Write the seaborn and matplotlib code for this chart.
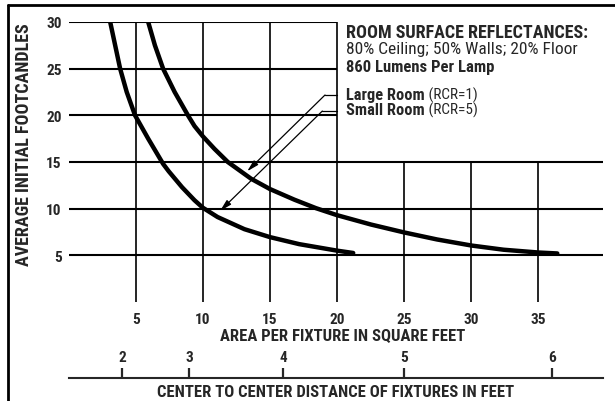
import numpy as np
import pandas as pd
import seaborn as sns
import matplotlib.pyplot as plt

# footcandles (area per fixture, sq ft)
large_area = [5.93, 6.43, 7.04, 7.9, 8.89, 9.38, 10, 10.87, 11.86, 13.6, 15, 16.82,
              18.43, 20, 22.52, 25, 27.44, 30, 32.4, 35, 36.4]
large_fc = [30, 27.5, 25, 22.5, 20, 18.85, 17.75, 16.4, 15.0, 13.2, 12.1, 10.96,
            10.05, 9.3, 8.3, 7.45, 6.7, 6.05, 5.6, 5.3, 5.2]
small_area = [3.1, 3.47, 3.84, 4.33, 4.95, 5.93, 7.04, 7.46, 8.45, 9.38, 10, 11.1,
              13.1, 15, 17.17, 20, 21.2]
small_fc = [30, 27.5, 25, 22.5, 20, 17.5, 14.8, 14.0, 12.3, 10.9, 10.1, 9.1,
            7.8, 6.95, 6.2, 5.5, 5.25]

x_ticks = [5, 10, 15, 20, 25, 30, 35]
y_ticks = [5, 10, 15, 20, 25, 30]
dist_ticks = [2, 3, 4, 5, 6]

df = pd.concat([
    pd.DataFrame({'area': large_area, 'fc': large_fc, 'room': 'Large Room'}),
    pd.DataFrame({'area': small_area, 'fc': small_fc, 'room': 'Small Room'}),
])

sns.set_style('white')
plt.rcParams['font.family'] = ['Roboto Condensed', 'Asap Condensed', 'DejaVu Sans']

fig = plt.figure(figsize=(6.15, 4.02), dpi=100)
ax = fig.add_axes([0.1115, 0.2463, 0.8689, 0.6965])

# grid: the upper right corner is left open for the notes
ax.hlines([5, 10, 15], 0, 39.8, color='black', lw=1.5)
ax.hlines([20, 25, 30], 0, 20, color='black', lw=1.5)
ax.vlines([5, 10, 15, 20], 0, 30, color='black', lw=1.2)
ax.vlines([25, 30, 35], 0, 15, color='black', lw=1.2)

sns.lineplot(data=df, x='area', y='fc', hue='room', palette=['black', 'black'],
             lw=3.2, legend=False, ax=ax)

ax.set_xlim(0, 39.8)
ax.set_ylim(0, 30)
ax.set_xticks(x_ticks)
ax.set_yticks(y_ticks)
for s in ax.spines.values():
    s.set_visible(False)
ax.tick_params(axis='both', length=0, labelsize=11)
ax.tick_params(axis='x', pad=7)
ax.tick_params(axis='y', pad=5)
for lbl in ax.get_xticklabels() + ax.get_yticklabels():
    lbl.set_fontweight('bold')

ax.set_xlabel('AREA PER FIXTURE IN SQUARE FEET', fontsize=12, fontweight='bold')
ax.xaxis.set_label_coords(0.512, -0.092)
ax.set_ylabel('AVERAGE INITIAL FOOTCANDLES', fontsize=13, fontweight='bold')
ax.yaxis.set_label_coords(-0.066, 0.565)

# second scale: spacing d gives area d*d
sec = ax.secondary_xaxis(-0.2714, functions=(np.sqrt, np.square))
sec.set_xticks(dist_ticks)
sec.spines['bottom'].set_linewidth(1.5)
sec.spines['top'].set_linewidth(1.5)
sec.tick_params(axis='x', top=True, bottom=False, labeltop=True, labelbottom=False,
                direction='out', length=7, width=1.6, pad=3, labelsize=11)
for lbl in sec.get_xticklabels():
    lbl.set_fontweight('bold')
sec.xaxis.set_label_position('bottom')
sec.set_xlabel('CENTER TO CENTER DISTANCE OF FIXTURES IN FEET', fontsize=12,
               fontweight='bold', labelpad=4)

# leaders from the notes to the curves
leaders = {'Large Room': [(20.0, 22.18), (19.1, 22.18), (13.3, 14.0)],
           'Small Room': [(20.0, 20.46), (18.9, 20.46), (11.28, 9.75)]}
for name, pts in leaders.items():
    ax.plot([pts[0][0], pts[1][0]], [pts[0][1], pts[1][1]], color='black', lw=0.9)
    ax.annotate('', xy=pts[2], xytext=pts[1],
                arrowprops=dict(arrowstyle='-|>,head_length=0.7,head_width=0.18',
                                color='black', lw=0.9, shrinkA=0, shrinkB=0))

tx = 0.5626
fig.text(tx, 0.9047, 'ROOM SURFACE REFLECTANCES:', fontsize=13, fontweight='bold', va='baseline')
fig.text(tx, 0.8669, '80% Ceiling; 50% Walls; 20% Floor', fontsize=12.5, va='baseline')
fig.text(tx, 0.8209, '860 Lumens Per Lamp', fontsize=12, fontweight='bold', va='baseline')
for y, name, rcr in [(0.7512, 'Large Room', ' (RCR=1)'), (0.7127, 'Small Room', ' (RCR=5)')]:
    t = fig.text(tx, y, name, fontsize=11.8, fontweight='bold', va='baseline')
    ax.annotate(rcr, xy=(1, 0), xycoords=t, fontsize=11, va='bottom', ha='left')

# frame edges seen on the scan (left and top)
fig.add_artist(plt.Line2D([8 / 615, 8 / 615], [0, 1 - 6 / 402], color='black', lw=2))
fig.add_artist(plt.Line2D([8 / 615, 1], [1 - 6 / 402, 1 - 6 / 402], color='black', lw=2))

fig.savefig('out.png', dpi=100)
